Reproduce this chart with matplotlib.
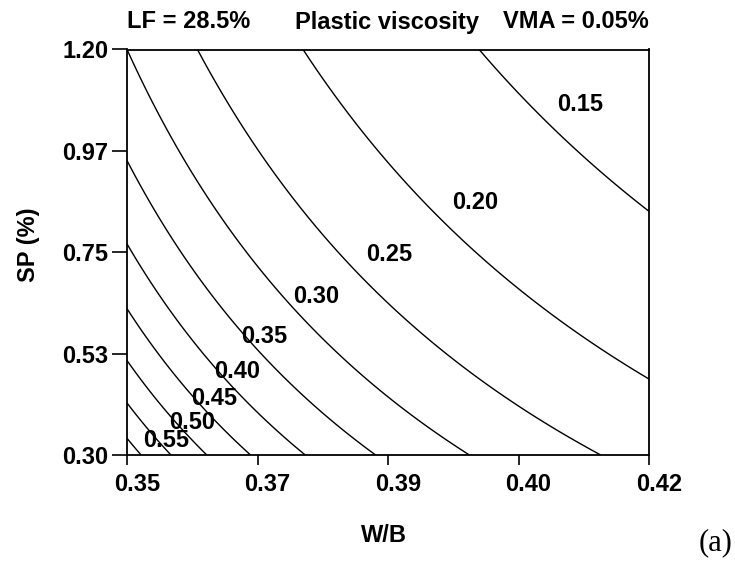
import numpy as np
import matplotlib
matplotlib.use("Agg")
import matplotlib.pyplot as plt
import matplotlib.transforms as mtransforms

# ---- data -------------------------------------------------------------
wb_range = [0.35, 0.42]          # W/B axis range
sp_range = [0.30, 1.20]          # SP (%) axis range

# Response-surface model read off the contour crossings
# (inverse transform, coded factors A = W/B, B = SP in [-1, 1]):
# 1/PV = b0 + bA*A + bB*B + bAB*A*B
inv_pv_coefs = [4.362, 1.898, 1.442, 0.573]

levels = [0.15, 0.20, 0.25, 0.30, 0.35, 0.40, 0.45, 0.50, 0.55, 0.60]
labeled_levels = [0.15, 0.20, 0.25, 0.30, 0.35, 0.40, 0.45, 0.50, 0.55]

x_ticks = [0.35, 0.3675, 0.385, 0.4025, 0.42]
x_ticklabels = ["0.35", "0.37", "0.39", "0.40", "0.42"]
y_ticks = [0.30, 0.525, 0.75, 0.975, 1.20]
y_ticklabels = ["0.30", "0.53", "0.75", "0.97", "1.20"]

# ---- layout -----------------------------------------------------------
label_pos = [(0.41075, 1.0790), (0.39667, 0.8604), (0.3852, 0.7461),
             (0.37535, 0.6507), (0.36837, 0.5641), (0.36475, 0.4864),
             (0.36167, 0.4243), (0.35872, 0.3732), (0.3552, 0.3311)]

W, H = 735, 561
fig = plt.figure(figsize=(W / 100, H / 100), dpi=100)
ax = fig.add_axes([127 / W, (H - 455) / H, (649 - 127) / W, (455 - 49.5) / H])

A = np.linspace(-1, 1, 500)
B = np.linspace(-1, 1, 500)
AA, BB = np.meshgrid(A, B)
b0, bA, bB, bAB = inv_pv_coefs
PV = 1.0 / (b0 + bA * AA + bB * BB + bAB * AA * BB)
WB = wb_range[0] + (AA + 1) / 2 * (wb_range[1] - wb_range[0])
SP = sp_range[0] + (BB + 1) / 2 * (sp_range[1] - sp_range[0])

ax.contour(WB, SP, PV, levels=levels, colors="black", linewidths=1.0)

font = "Liberation Sans"
fs = 17
for lev, (lx, ly) in zip(labeled_levels, label_pos):
    ax.text(lx, ly, f"{lev:.2f}", ha="center", va="center", fontsize=fs,
            fontweight="bold", family=font)

ax.set_xlim(wb_range)
ax.set_ylim(sp_range)
ax.set_xticks(x_ticks)
ax.set_xticklabels(x_ticklabels, fontsize=fs, fontweight="bold", family=font)
ax.set_yticks(y_ticks)
ax.set_yticklabels(y_ticklabels, fontsize=fs, fontweight="bold", family=font)
ax.tick_params(axis="x", direction="out", length=7.5, width=1.2, pad=5.5)
ax.tick_params(axis="y", direction="out", length=10.5, width=1.2, pad=3)
offset = mtransforms.ScaledTranslation(7 / 72, 0, fig.dpi_scale_trans)
for lab in ax.get_xticklabels():
    lab.set_transform(lab.get_transform() + offset)
for sp in ax.spines.values():
    sp.set_linewidth(1.3)

ax.set_xlabel("W/B", fontsize=fs, fontweight="bold", family=font)
ax.xaxis.label.set_va("center")
ax.xaxis.set_label_coords((384 - 127) / 522, (455 - 536) / 405.5)
ax.set_ylabel("SP (%)", fontsize=fs, fontweight="bold", family=font)
ax.yaxis.label.set_va("center")
ax.yaxis.set_label_coords((28 - 127) / 522, (455 - 245) / 405.5)

ty = 1 - 22 / H
fig.text(127 / W, ty, "LF = 28.5%", ha="left", va="center", fontsize=fs,
         fontweight="bold", family=font)
fig.text(386.5 / W, ty, "Plastic viscosity", ha="center", va="center",
         fontsize=fs, fontweight="bold", family=font)
fig.text(649 / W, ty, "VMA = 0.05%", ha="right", va="center", fontsize=fs,
         fontweight="bold", family=font)
fig.text(716 / W, 1 - 543 / H, "(a)", ha="center", va="center", fontsize=22,
         family="Liberation Serif")

fig.savefig("out.png", dpi=100)
